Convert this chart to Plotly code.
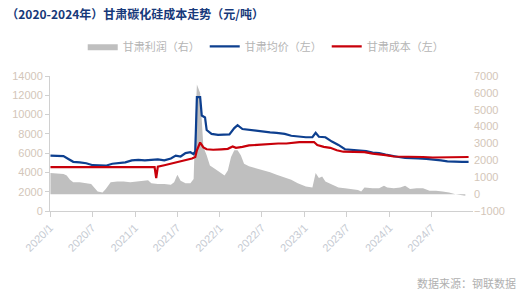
import plotly.graph_objects as go

# ---- data ----
price_dates = ["2020-01-03","2020-02-07","2020-02-28","2020-03-20","2020-04-10","2020-05-08","2020-06-05","2020-07-03",
               "2020-07-31","2020-08-28","2020-09-25","2020-10-23","2020-11-20","2020-12-18","2021-01-15","2021-02-12",
               "2021-03-12","2021-04-09","2021-05-07","2021-06-04","2021-06-25","2021-07-16","2021-08-06","2021-08-27",
               "2021-09-10","2021-09-17","2021-09-24","2021-10-08","2021-10-15","2021-10-29","2021-11-05","2021-11-26",
               "2021-12-24","2022-01-21","2022-02-11","2022-03-04","2022-03-18","2022-04-08","2022-05-06","2022-06-03",
               "2022-07-01","2022-08-05","2022-09-02","2022-10-07","2022-11-04","2022-12-02","2023-01-06","2023-02-03",
               "2023-02-17","2023-03-03","2023-03-31","2023-04-28","2023-05-26","2023-06-23","2023-07-21","2023-08-25",
               "2023-09-22","2023-10-20","2023-11-17","2023-12-15","2024-01-12","2024-02-09","2024-03-08","2024-04-05",
               "2024-05-03","2024-06-07","2024-07-05","2024-08-09","2024-09-06","2024-10-11","2024-11-08","2024-12-06"]
price_values = [5750,5750,5700,5400,5100,5050,4950,4750,
                4700,4700,4900,4950,5050,5250,5300,5250,
                5300,5350,5250,5450,5750,5650,6000,6100,
                5900,6200,11800,11800,9900,9700,8400,8000,
                7900,7900,7950,8600,8900,8500,8400,8300,
                8200,8150,8100,8000,7800,7700,7650,7650,
                8100,7700,7650,7200,6850,6400,6350,6250,
                6200,6050,6000,5850,5700,5600,5500,5500,
                5450,5400,5350,5250,5150,5100,5100,5100]

cost_dates = ["2020-01-03","2020-06-05","2020-12-04","2021-03-26","2021-04-02","2021-04-09","2021-05-07","2021-06-04",
              "2021-07-02","2021-08-06","2021-09-03","2021-09-17","2021-09-24","2021-10-08","2021-10-22","2021-11-05",
              "2021-12-03","2022-01-07","2022-02-04","2022-02-25","2022-03-11","2022-04-08","2022-05-06","2022-06-10",
              "2022-07-08","2022-08-12","2022-09-09","2022-10-14","2022-11-11","2022-12-09","2023-01-13","2023-02-10",
              "2023-02-24","2023-03-24","2023-04-21","2023-05-19","2023-06-16","2023-07-14","2023-08-18","2023-09-15",
              "2023-10-20","2023-11-17","2023-12-15","2024-01-19","2024-02-23","2024-04-05","2024-05-24","2024-07-05",
              "2024-08-16","2024-09-27","2024-11-01","2024-12-06"]
cost_values = [4550,4550,4550,4560,3400,4600,4750,4900,
               5100,5250,5450,5600,6300,7100,6600,6400,
               6350,6400,6450,6700,6550,6650,6800,6850,
               6900,6950,7000,7000,7100,7150,7150,7150,
               6850,6650,6550,6300,6150,6150,6150,6100,
               5950,5900,5800,5650,5650,5600,5600,5550,
               5550,5550,5600,5600]

profit_dates = ["2020-01-03","2020-02-28","2020-03-13","2020-03-27","2020-04-10","2020-05-08","2020-06-05","2020-06-26",
                "2020-07-24","2020-08-14","2020-08-28","2020-09-18","2020-10-16","2020-11-13","2020-12-11","2021-01-08",
                "2021-02-05","2021-02-26","2021-03-12","2021-04-09","2021-05-07","2021-06-04","2021-06-18","2021-07-02",
                "2021-07-16","2021-08-06","2021-08-27","2021-09-10","2021-09-17","2021-09-24","2021-10-08","2021-10-15",
                "2021-10-22","2021-11-05","2021-11-19","2021-12-10","2021-12-31","2022-01-21","2022-02-04","2022-02-18",
                "2022-03-04","2022-03-18","2022-04-01","2022-04-15","2022-05-06","2022-06-03","2022-07-01","2022-08-05",
                "2022-09-02","2022-10-07","2022-11-04","2022-12-02","2023-01-06","2023-02-03","2023-02-17","2023-03-03",
                "2023-03-17","2023-03-31","2023-04-28","2023-05-26","2023-06-23","2023-07-21","2023-08-18","2023-09-01",
                "2023-09-15","2023-10-20","2023-11-17","2023-12-08","2023-12-22","2024-01-19","2024-02-16","2024-03-08",
                "2024-03-29","2024-04-26","2024-05-24","2024-06-21","2024-07-19","2024-08-16","2024-09-13","2024-10-11",
                "2024-11-01","2024-11-22"]
profit_values = [1250,1200,1100,850,700,700,650,600,
                 150,100,300,700,750,750,700,750,
                 800,820,650,600,600,550,700,1150,
                 800,650,650,900,4000,6500,6000,4500,
                 2800,2300,1700,1500,1300,1100,1400,2200,
                 2600,2600,2300,1800,1650,1550,1450,1300,
                 1150,1000,850,650,450,400,1250,950,
                 1050,750,550,400,350,300,250,150,
                 400,350,350,500,400,350,400,500,
                 300,350,350,200,200,150,100,0,
                 -50,-100]

tick_vals = ["2020-01-01","2020-07-01","2021-01-01","2021-07-01","2022-01-01","2022-07-01",
             "2023-01-01","2023-07-01","2024-01-01","2024-07-01"]
tick_text = ["2020/1","2020/7","2021/1","2021/7","2022/1","2022/7","2023/1","2023/7","2024/1","2024/7"]

font_main = "Liberation Sans, Arial, sans-serif"
font_cjk = "Noto Sans CJK SC"
label_col = "#d3c6b9"

fig = go.Figure()
fig.add_trace(go.Scatter(x=profit_dates, y=profit_values, name="甘肃利润（右）", mode="lines",
                         line=dict(width=0, color="#bfbfbf"), fill="tozeroy", fillcolor="#bfbfbf",
                         yaxis="y"))
fig.add_trace(go.Scatter(x=price_dates, y=price_values, name="甘肃均价（左）", mode="lines",
                         line=dict(width=2.2, color="#0d3f8f"), yaxis="y2"))
fig.add_trace(go.Scatter(x=cost_dates, y=cost_values, name="甘肃成本（左）", mode="lines",
                         line=dict(width=2.2, color="#c8000a"), yaxis="y2"))

fig.update_layout(
    width=522, height=295,
    margin=dict(l=48, r=49, t=76, b=84),
    paper_bgcolor="white", plot_bgcolor="white",
    showlegend=True,
    title=dict(text="<b>（2020-2024年）甘肃碳化硅成本走势（元/吨）</b>",
               font=dict(family=font_cjk, size=12, color="#17397a"),
               xref="container", yref="container", x=0.012, y=0.95, xanchor="left", yanchor="middle"),
    legend=dict(orientation="h", x=0.51, xanchor="center", y=1.22, yanchor="middle",
                font=dict(family=font_cjk, size=11, color="#b5b5b5"),
                bgcolor="rgba(0,0,0,0)", itemwidth=30, tracegroupgap=0),
    xaxis=dict(type="date", range=["2020-01-01", "2024-12-25"], tickvals=tick_vals, ticktext=tick_text,
               tickangle=-45, tickfont=dict(family=font_main, size=11, color="#c5cad2"),
               showline=True, linecolor="#d0d0d0", linewidth=1, ticks="outside", tickcolor="#d0d0d0",
               ticklen=5, showgrid=False, zeroline=False),
    yaxis=dict(side="right", range=[-1000, 7000], dtick=1000, tickformat="d", showgrid=False, zeroline=False,
               showline=False, tickfont=dict(family=font_main, size=11, color=label_col)),
    yaxis2=dict(overlaying="y", side="left", range=[0, 14000], dtick=2000, tickformat="d",
                showgrid=False, zeroline=False,
                showline=True, linecolor="#d0d0d0", linewidth=1, ticks="outside", tickcolor="#d0d0d0",
                ticklen=4, tickfont=dict(family=font_main, size=11, color=label_col)),
)

fig.add_annotation(text="数据来源：钢联数据", xref="paper", yref="paper", x=1.106, y=-0.533,
                   xanchor="right", yanchor="middle", showarrow=False,
                   font=dict(family=font_cjk, size=11, color="#b0b0b0"))

fig.write_html("out.html")
